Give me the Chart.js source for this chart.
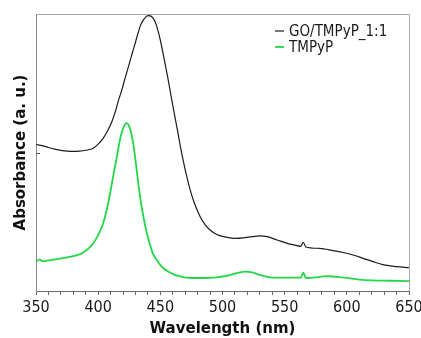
<!DOCTYPE html>
<html>
<head>
<meta charset="utf-8">
<script src="https://cdn.jsdelivr.net/npm/chart.js@4"></script>
<style>
html,body{margin:0;padding:0;background:#fff;}
#wrap{width:421px;height:338px;}
</style>
</head>
<body>
<div id="wrap"><canvas id="c" width="421" height="338"></canvas></div>
<script>
const seriesNames = ["GO/TMPyP_1:1", "TMPyP"];
const seriesColors = ["#1c1c1c", "#22d84a"];

const wavelengthsGO = [350,355,360,365,370,375,380,385,390,396,400,404,408,411,414,416,419,422,425,427,430,432,434,436,438,440,442,444,446,448,450,452,454,456,458,460,462,464,466,468,471,474,477,480,483,486,490,495,500,506,512,518,524,530,536,544,552,560,563,565,567,578,589,597,605,613,621,629,640,650];
const absorbanceGO = [52.9,52.5,51.8,51.2,50.8,50.5,50.4,50.5,50.8,51.5,53.0,55.1,58.2,61.1,65.0,68.3,72.5,77.4,82.0,85.2,89.8,93.0,95.8,97.6,98.8,99.4,99.3,98.6,97.0,94.2,90.6,86.2,81.6,77.0,72.0,67.0,62.2,57.5,52.5,48.0,41.8,36.5,32.2,28.8,26.0,24.0,22.0,20.5,19.7,19.2,19.0,19.3,19.6,19.9,19.6,18.4,17.2,16.4,16.1,17.6,15.9,15.4,14.6,13.9,13.0,11.8,10.6,9.5,8.8,8.4];

const wavelengthsTMPyP = [350,353,355,365,375,385,390,395,400,404,408,412,415,418,420,422,423,425,427,429,431,433,435,438,441,444,448,452,458,465,475,485,495,505,512,518,524,530,537,545,555,563,565,567,575,583,590,600,610,620,635,650];
const absorbanceTMPyP = [10.6,11.4,10.8,11.4,12.1,13.2,14.5,16.6,20.2,24.4,31.6,41.2,48.4,55.6,58.6,60.4,60.6,59.4,56.2,50.8,43.6,36.4,30.4,23.2,17.8,13.6,10.6,8.4,6.6,5.4,4.7,4.7,4.9,5.6,6.5,7.0,6.7,5.8,5.0,4.8,4.8,4.8,6.6,4.7,4.9,5.4,5.2,4.7,4.1,3.8,3.7,3.6];

const xMin = 350, xMax = 650, xStep = 10, xLabelEvery = 50;
const xTitle = "Wavelength (nm)";
const yTitle = "Absorbance (a. u.)";

function pts(xs, ys){ return xs.map((x,i)=>({x:x, y:ys[i]})); }

const tickFont = {family: '"DejaVu Sans Condensed", "DejaVu Sans", sans-serif', size: 16};
const titleFont = {family: '"DejaVu Sans", sans-serif', size: 15, weight: 'bold'};

const framePlugin = {
  id: 'frame',
  beforeDatasetsDraw(chart){
    const {ctx, chartArea:a} = chart;
    ctx.save();
    ctx.lineWidth = 1;
    ctx.strokeStyle = '#a8a8a8';
    ctx.beginPath();
    ctx.moveTo(a.left, a.top + 0.5); ctx.lineTo(a.right + 0.5, a.top + 0.5);
    ctx.lineTo(a.right + 0.5, a.bottom);
    ctx.stroke();
    const y = chart.scales.y.getPixelForValue(50);
    ctx.strokeStyle = '#555';
    ctx.beginPath();
    ctx.moveTo(a.left, Math.round(y) + 0.5); ctx.lineTo(a.left + 4, Math.round(y) + 0.5);
    ctx.stroke();
    ctx.restore();
  }
};

const legendPlugin = {
  id: 'customLegend',
  afterDatasetsDraw(chart){
    const {ctx} = chart;
    ctx.save();
    ctx.font = '15px "DejaVu Sans Condensed", "DejaVu Sans", sans-serif';
    ctx.textBaseline = 'middle';
    chart.data.datasets.forEach((ds, i) => {
      const y = 31 + i * 16;
      ctx.strokeStyle = ds.borderColor;
      ctx.lineWidth = i === 0 ? 1.2 : 1.8;
      ctx.beginPath();
      ctx.moveTo(275, y); ctx.lineTo(284, y);
      ctx.stroke();
      ctx.fillStyle = '#1a1a1a';
      ctx.fillText(ds.label, 289, y + 1);
    });
    ctx.restore();
  }
};

new Chart(document.getElementById('c'), {
  type: 'line',
  data: {
    datasets: [
      {label: seriesNames[0], data: pts(wavelengthsGO, absorbanceGO), borderColor: seriesColors[0], borderWidth: 1.2, pointRadius: 0, tension: 0.4, cubicInterpolationMode: 'monotone', fill: false},
      {label: seriesNames[1], data: pts(wavelengthsTMPyP, absorbanceTMPyP), borderColor: seriesColors[1], borderWidth: 1.8, pointRadius: 0, tension: 0.4, cubicInterpolationMode: 'monotone', fill: false}
    ]
  },
  options: {
    responsive: false,
    animation: false,
    events: [],
    layout: {padding: {left: 0, right: 12, top: 14, bottom: 0}},
    plugins: {legend: {display: false}, tooltip: {enabled: false}},
    scales: {
      x: {
        type: 'linear', min: xMin, max: xMax,
        afterFit(s){ s.height = 47; s.paddingLeft = 0; s.paddingRight = 0; },
        border: {display: true, color: '#6e6e6e', width: 1},
        grid: {display: true, drawOnChartArea: false, drawTicks: true, tickLength: 4, color: '#6e6e6e'},
        ticks: {stepSize: xStep, autoSkip: false, maxRotation: 0, padding: 3, color: '#1a1a1a', font: tickFont,
          callback: v => (v % xLabelEvery === 0 ? String(v) : '')},
        title: {display: true, text: xTitle, color: '#111', font: titleFont, padding: {top: 5, bottom: 0}}
      },
      y: {
        min: 0, max: 100,
        afterFit(s){ s.width = 36; },
        border: {display: true, color: '#8a8a8a', width: 1},
        grid: {display: false},
        ticks: {display: false},
        title: {display: true, text: yTitle, color: '#111', font: titleFont, padding: {top: 12, bottom: 0}}
      }
    }
  },
  plugins: [framePlugin, legendPlugin]
});
</script>
</body>
</html>
